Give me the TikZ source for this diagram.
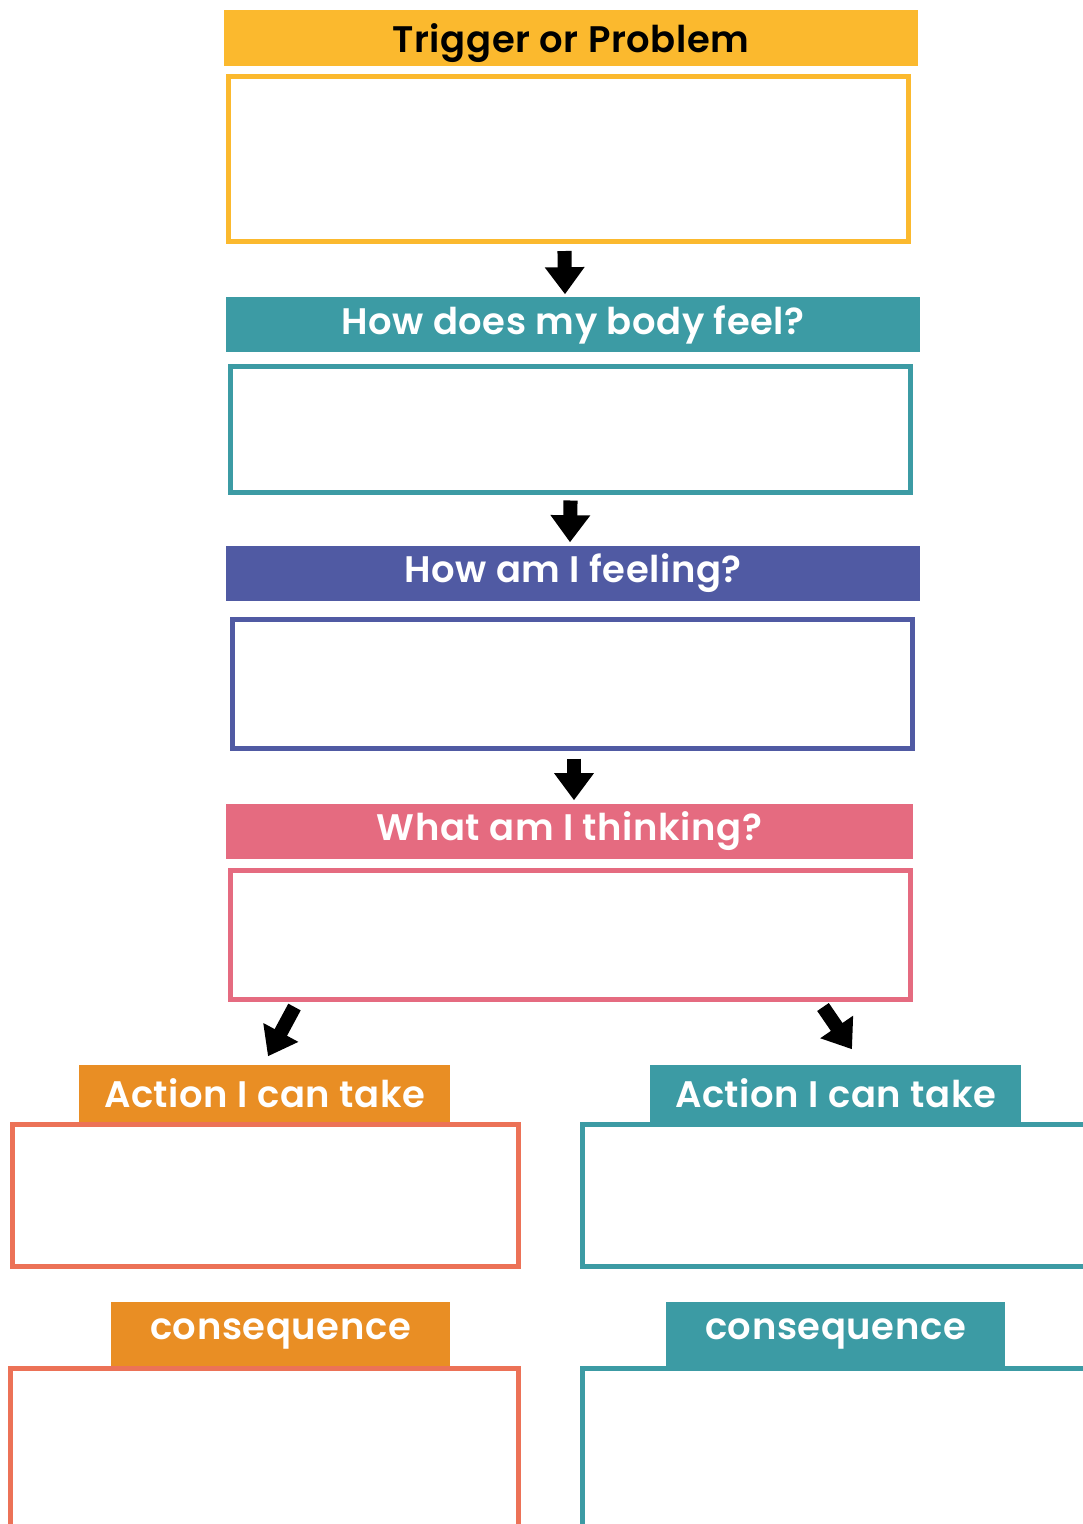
\documentclass[tikz,border=0pt]{standalone}
\usepackage{fontspec}
\setmainfont{Poppins}[BoldFont={Poppins SemiBold}, LetterSpace=1.6]
\usetikzlibrary{arrows.meta}

\definecolor{trigyellow}{HTML}{FBB92E}
\definecolor{bodyteal}{HTML}{3C9BA4}
\definecolor{feelblue}{HTML}{505AA3}
\definecolor{thinkpink}{HTML}{E56B80}
\definecolor{taborange}{HTML}{E98E24}
\definecolor{boxcoral}{HTML}{EC7257}

\tikzset{
	bar/.style={fill=#1, inner sep=0pt, minimum height=0.55cm, text=white,
		font=\fontsize{10.5pt}{12pt}\selectfont\bfseries},
	answerbox/.style={draw=#1, line width=1.4pt, fill=white, inner sep=0pt},
	flowarrow/.style={line width=4pt, -{Triangle[width=10.8pt,length=7.7pt]}}
}

\begin{document}
\begin{tikzpicture}[x=0.01cm, y=-0.01cm]
		\path[use as bounding box, clip] (0,0) rectangle (1083,1524);
		\fill[white] (0,0) rectangle (1083,1524);
		
		%trigger
		\node (trigbar) at (571,38) [bar=trigyellow, text=black, minimum width=6.94cm, minimum height=0.56cm, text depth=0pt]{Trigger or Problem};
		\node (trigbox) at (568.5,159) [answerbox=trigyellow, minimum width=6.80cm, minimum height=1.65cm]{};
		
		%body
		\node (bodybar) at (573,324.5) [bar=bodyteal, minimum width=6.94cm]{How does my body feel?};
		\node (bodybox) at (570.5,429.5) [answerbox=bodyteal, minimum width=6.80cm, minimum height=1.26cm]{};
		
		%feeling
		\node (feelbar) at (573,573.5) [bar=feelblue, minimum width=6.94cm]{How am I feeling?};
		\node (feelbox) at (572.5,684) [answerbox=feelblue, minimum width=6.80cm, minimum height=1.29cm]{};
		
		%thinking
		\node (thinkbar) at (569.5,831.5) [bar=thinkpink, minimum width=6.87cm]{What am I thinking?};
		\node (thinkbox) at (570.5,935) [answerbox=thinkpink, minimum width=6.80cm, minimum height=1.29cm]{};
		
		%left branch
		\node (actlbox) at (265.5,1195.5) [answerbox=boxcoral, minimum width=5.06cm, minimum height=1.42cm]{};
		\node (actltab) at (264.5,1093.5) [bar=taborange, minimum width=3.71cm, minimum height=0.57cm]{Action I can take};
		\node (conslbox) at (264.5,1453) [answerbox=boxcoral, minimum width=5.08cm, minimum height=1.69cm]{};
		\node (consltab) at (280.5,1334) [bar=taborange, minimum width=3.39cm, minimum height=0.64cm]{consequence};
		
		%right branch
		\node (actrbox) at (835.5,1195.5) [answerbox=bodyteal, minimum width=5.06cm, minimum height=1.42cm]{};
		\node (actrtab) at (835.5,1093.5) [bar=bodyteal, minimum width=3.71cm, minimum height=0.57cm]{Action I can take};
		\node (consrbox) at (835.5,1453) [answerbox=bodyteal, minimum width=5.06cm, minimum height=1.69cm]{};
		\node (consrtab) at (835.5,1334) [bar=bodyteal, minimum width=3.39cm, minimum height=0.64cm]{consequence};
		
		%arrows
		\draw[flowarrow] ([shift={(-4,7)}]trigbox.south) -- ([shift={(-8,-2)}]bodybar.north);
		\draw[flowarrow] ([shift={(0,5.5)}]bodybox.south) -- ([shift={(-3,-3)}]feelbar.north);
		\draw[flowarrow] ([shift={(1.5,7.5)}]feelbox.south) -- ([shift={(4.5,-3)}]thinkbar.north);
		\draw[flowarrow] ([shift={(-276,5)}]thinkbox.south) -- ([shift={(3.5,-8)}]actltab.north);
		\draw[flowarrow] ([shift={(252.5,5)}]thinkbox.south) -- ([shift={(16.5,-15)}]actrtab.north);
		\end{tikzpicture}
\end{document}
